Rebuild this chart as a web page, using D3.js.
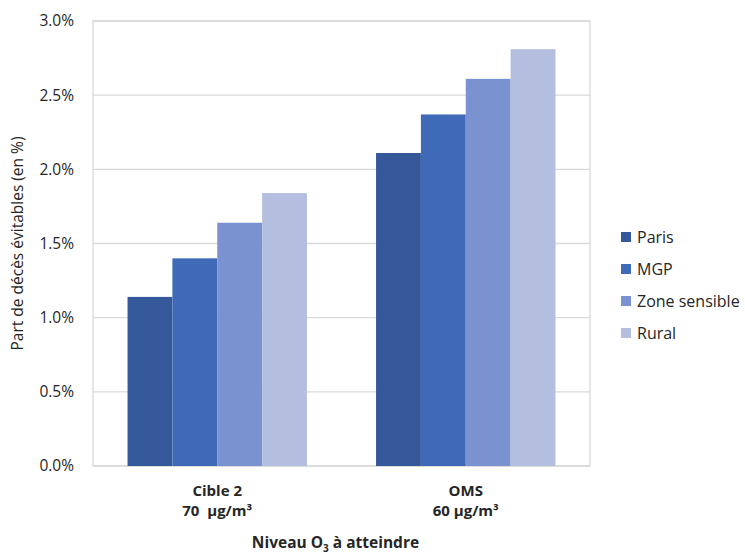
<!DOCTYPE html>
<html>
<head>
<meta charset="utf-8">
<script src="https://cdn.jsdelivr.net/npm/d3@7"></script>
<style>
  body { margin: 0; background: #fff; }
  text { font-family: "Open Sans", Lato, sans-serif; fill: #262626; }
</style>
</head>
<body>
<div id="chart"></div>
<script>
// Data
const categories = ['Cible 2', 'OMS']
const categorySub = ['70  µg/m³', '60 µg/m³']
const seriesNames = ['Paris', 'MGP', 'Zone sensible', 'Rural']
const seriesColors = ['#34589a', '#3e6ab7', '#7a92cf', '#b4bfe0']
const paris = [1.14, 2.11]
const mgp = [1.40, 2.37]
const zoneSensible = [1.64, 2.61]
const rural = [1.84, 2.81]
const yTicks = [0, 0.5, 1.0, 1.5, 2.0, 2.5, 3.0]

const seriesValues = [paris, mgp, zoneSensible, rural]

function draw() {
  const dimensions = {
    width: 745,
    height: 556,
    left: 93,
    right: 590,
    top: 21,
    bottom: 466
  }

  const svg = d3.select('#chart')
    .append('svg')
    .attr('width', dimensions.width)
    .attr('height', dimensions.height)

  // Scales
  const xScale = d3.scaleBand()
    .domain(categories)
    .range([dimensions.left, dimensions.right])
    .paddingInner(0.278)
    .paddingOuter(0.139)

  const xInner = d3.scaleBand()
    .domain(seriesNames)
    .range([0, xScale.bandwidth()])

  const yScale = d3.scaleLinear()
    .domain([0, 3])
    .range([dimensions.bottom, dimensions.top])

  // gridlines
  svg.append('g')
    .selectAll('line')
    .data(yTicks)
    .join('line')
    .attr('x1', dimensions.left)
    .attr('x2', dimensions.right)
    .attr('y1', d => yScale(d))
    .attr('y2', d => yScale(d))
    .attr('stroke', '#d9d9d9')
    .attr('stroke-width', 1.3)

  // plot border
  svg.append('rect')
    .attr('x', dimensions.left)
    .attr('y', dimensions.top)
    .attr('width', dimensions.right - dimensions.left)
    .attr('height', dimensions.bottom - dimensions.top)
    .attr('fill', 'none')
    .attr('stroke', '#d9d9d9')
    .attr('stroke-width', 1.3)

  // bars
  const groups = svg.append('g')
    .selectAll('g')
    .data(categories)
    .join('g')
    .attr('transform', d => `translate(${xScale(d)},0)`)

  groups.selectAll('rect')
    .data((c, i) => seriesNames.map((s, j) => ({ s, j, v: seriesValues[j][i] })))
    .join('rect')
    .attr('x', d => xInner(d.s))
    .attr('width', xInner.bandwidth())
    .attr('y', d => yScale(d.v))
    .attr('height', d => yScale(0) - yScale(d.v))
    .attr('fill', d => seriesColors[d.j])

  // y axis labels
  svg.append('g')
    .selectAll('text')
    .data(yTicks)
    .join('text')
    .attr('x', 74)
    .attr('y', d => yScale(d))
    .attr('dy', '0.35em')
    .attr('text-anchor', 'end')
    .style('font-size', '15.5px')
    .text(d => d3.format('.1f')(d) + '%')

  // y axis title
  svg.append('text')
    .attr('transform', `translate(23, ${(dimensions.top + dimensions.bottom) / 2}) rotate(-90)`)
    .attr('text-anchor', 'middle')
    .style('font-size', '15.5px')
    .text('Part de décès évitables (en %)')

  // x category labels (two lines)
  const xLabels = svg.append('g')
    .attr('text-anchor', 'middle')
    .style('font-size', '15px')
    .style('font-weight', 'bold')

  xLabels.selectAll('text.cat')
    .data(categories)
    .join('text')
    .attr('class', 'cat')
    .attr('x', d => xScale(d) + xScale.bandwidth() / 2)
    .attr('y', 496)
    .text(d => d)

  xLabels.selectAll('text.sub')
    .data(categories)
    .join('text')
    .attr('class', 'sub')
    .attr('x', d => xScale(d) + xScale.bandwidth() / 2)
    .attr('y', 516)
    .style('white-space', 'pre')
    .text((d, i) => categorySub[i])

  // x axis title
  const xt = svg.append('text')
    .attr('x', (dimensions.left + dimensions.right) / 2 - 6)
    .attr('y', 548)
    .attr('text-anchor', 'middle')
    .style('font-size', '15.5px')
    .style('font-weight', 'bold')
  xt.append('tspan').text('Niveau O')
  xt.append('tspan').attr('dy', 4).style('font-size', '10px').text('3')
  xt.append('tspan').attr('dy', -4).text(' à atteindre')

  // legend
  const legend = svg.append('g')
    .selectAll('g')
    .data(seriesNames)
    .join('g')
    .attr('transform', (d, i) => `translate(621, ${237 + i * 32})`)

  legend.append('rect')
    .attr('x', 0)
    .attr('y', -5)
    .attr('width', 10)
    .attr('height', 10)
    .attr('fill', (d, i) => seriesColors[i])

  legend.append('text')
    .attr('x', 16)
    .attr('dy', '0.35em')
    .style('font-size', '16px')
    .text(d => d)
}

draw()
</script>
</body>
</html>
